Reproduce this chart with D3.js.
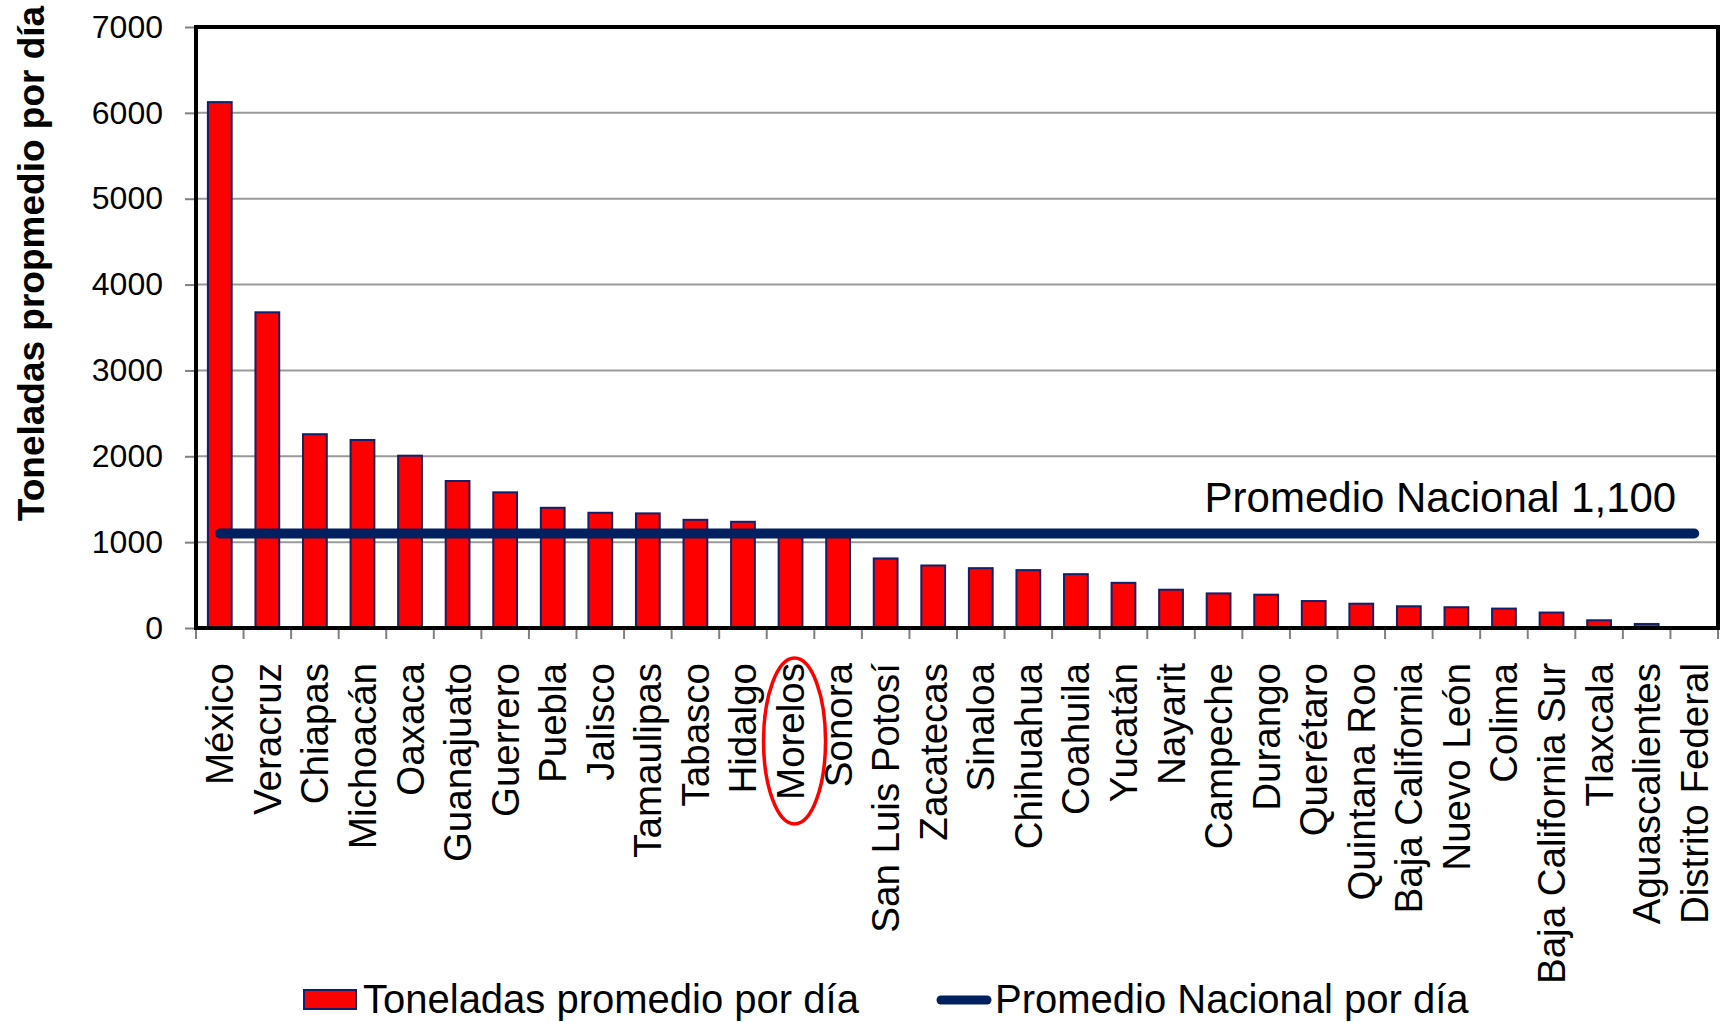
<!DOCTYPE html>
<html>
<head>
<meta charset="utf-8">
<script src="https://cdn.jsdelivr.net/npm/d3@7"></script>
<style>
  html, body { margin: 0; padding: 0; background: #fff; }
  svg { display: block; font-family: "Liberation Sans", Arial, sans-serif; }
</style>
</head>
<body>
<script>
// estados, ordenados de mayor a menor
const categories = ["México", "Veracruz", "Chiapas", "Michoacán", "Oaxaca", "Guanajuato",
  "Guerrero", "Puebla", "Jalisco", "Tamaulipas", "Tabasco", "Hidalgo", "Morelos", "Sonora",
  "San Luis Potosí", "Zacatecas", "Sinaloa", "Chihuahua", "Coahuila", "Yucatán", "Nayarit",
  "Campeche", "Durango", "Querétaro", "Quintana Roo", "Baja California", "Nuevo León",
  "Colima", "Baja California Sur", "Tlaxcala", "Aguascalientes", "Distrito Federal"];

const toneladas = [6125, 3677, 2257, 2190, 2007, 1712, 1580, 1400, 1342, 1335, 1260, 1237,
  1105, 1085, 810, 728, 697, 674, 627, 526, 446, 403, 388, 314, 283, 253, 242, 226, 180,
  90, 47, 0];

const promedioNacional = 1100;
const yTicks = [0, 1000, 2000, 3000, 4000, 5000, 6000, 7000];
const highlighted = "Morelos";

const W = 1724, H = 1022;
const margin = {left: 196, right: 6, top: 27, bottom: 394};

const svg = d3.select("body").append("svg")
    .attr("width", W)
    .attr("height", H);

const x0 = margin.left, x1 = W - margin.right;
const yTop = margin.top, yBottom = H - margin.bottom;

// una banda por estado (para las marcas del eje) y las barras centradas en ella
const xBand = d3.scaleBand().domain(categories).range([x0, x1]);
const x = d3.scaleBand().domain(categories).range([x0, x1])
    .paddingInner(0.5).paddingOuter(0.25);
const y = d3.scaleLinear().domain([0, 7000]).range([yBottom, yTop]);

const cx = d => xBand(d) + xBand.bandwidth() / 2;

// lineas de la cuadricula
svg.append("g")
    .selectAll("line")
    .data(yTicks.filter(t => t > 0 && t < 7000))
    .join("line")
    .attr("x1", x0)
    .attr("x2", x1)
    .attr("y1", d => y(d))
    .attr("y2", d => y(d))
    .attr("stroke", "#9a9a9a")
    .attr("stroke-width", 2);

// eje y
const yAxis = d3.axisLeft(y)
    .tickValues(yTicks)
    .tickFormat(d3.format("d"))
    .tickSize(11)
    .tickPadding(22);
const gy = svg.append("g")
    .attr("transform", `translate(${x0},0)`)
    .call(yAxis);
gy.select(".domain").remove();
gy.selectAll(".tick line").attr("stroke", "#808080").attr("stroke-width", 2);
gy.selectAll(".tick text")
    .attr("font-size", 32)
    .attr("font-family", "'Liberation Sans', Arial, sans-serif")
    .attr("fill", "#000");

// marcas del eje x en los limites de cada banda
svg.append("g")
    .selectAll("line")
    .data(categories.map(c => xBand(c)).concat([x1]))
    .join("line")
    .attr("x1", d => d)
    .attr("x2", d => d)
    .attr("y1", yBottom)
    .attr("y2", yBottom + 11)
    .attr("stroke", "#808080")
    .attr("stroke-width", 2);

// barras
svg.append("g")
    .selectAll("rect")
    .data(categories)
    .join("rect")
    .attr("x", d => x(d))
    .attr("y", (d, i) => y(toneladas[i]))
    .attr("width", x.bandwidth())
    .attr("height", (d, i) => yBottom - y(toneladas[i]))
    .attr("fill", "#ff0000")
    .attr("stroke", "#10206a")
    .attr("stroke-width", (d, i) => toneladas[i] > 0 ? 2 : 0);

// marco del area de trazado
svg.append("rect")
    .attr("x", x0)
    .attr("y", yTop)
    .attr("width", x1 - x0)
    .attr("height", yBottom - yTop)
    .attr("fill", "none")
    .attr("stroke", "#000")
    .attr("stroke-width", 4);

// promedio nacional
svg.append("line")
    .attr("x1", cx(categories[0]))
    .attr("x2", cx(categories[categories.length - 1]))
    .attr("y1", y(promedioNacional))
    .attr("y2", y(promedioNacional))
    .attr("stroke", "#002060")
    .attr("stroke-width", 10)
    .attr("stroke-linecap", "round");

svg.append("text")
    .attr("x", cx(categories[categories.length - 1]) - 18)
    .attr("y", y(promedioNacional) - 22)
    .attr("text-anchor", "end")
    .attr("font-size", 42)
    .attr("fill", "#000")
    .text("Promedio Nacional 1,100");

// etiquetas de los estados
svg.append("g")
    .selectAll("text")
    .data(categories)
    .join("text")
    .attr("transform", d => `translate(${cx(d)},${yBottom + 35}) rotate(-90)`)
    .attr("dy", "0.35em")
    .attr("text-anchor", "end")
    .attr("font-size", 38.5)
    .attr("fill", "#000")
    .text(d => d);

// circulo alrededor de Morelos
svg.append("ellipse")
    .attr("cx", cx(highlighted) + 4)
    .attr("cy", yBottom + 113)
    .attr("rx", 31)
    .attr("ry", 83)
    .attr("fill", "none")
    .attr("stroke", "#ff0000")
    .attr("stroke-width", 3.5);

// titulo del eje y
svg.append("text")
    .attr("transform", `translate(44,${(9 + 518) / 2}) rotate(-90)`)
    .attr("text-anchor", "middle")
    .attr("font-size", 37)
    .attr("font-weight", "bold")
    .attr("fill", "#000")
    .text("Toneladas propmedio por día");

// leyenda
const legend = svg.append("g").attr("font-size", 40).attr("fill", "#000");
legend.append("rect")
    .attr("x", 304)
    .attr("y", 990)
    .attr("width", 52)
    .attr("height", 19)
    .attr("fill", "#ff0000")
    .attr("stroke", "#10206a")
    .attr("stroke-width", 2);
legend.append("text")
    .attr("x", 363)
    .attr("y", 1013)
    .text("Toneladas promedio por día");
legend.append("line")
    .attr("x1", 941)
    .attr("x2", 987)
    .attr("y1", 1000)
    .attr("y2", 1000)
    .attr("stroke", "#002060")
    .attr("stroke-width", 9)
    .attr("stroke-linecap", "round");
legend.append("text")
    .attr("x", 995)
    .attr("y", 1013)
    .text("Promedio Nacional por día");
</script>
</body>
</html>
